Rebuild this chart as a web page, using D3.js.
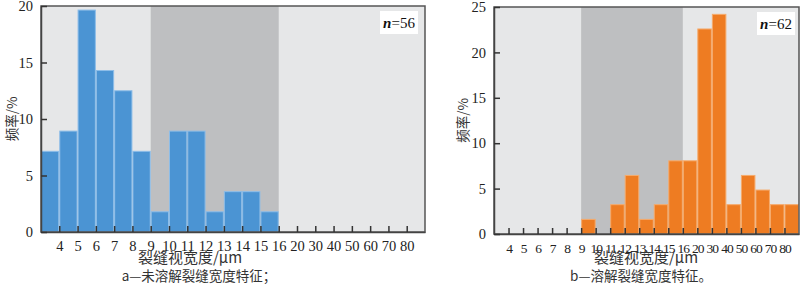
<!DOCTYPE html>
<html>
<head>
<meta charset="utf-8">
<script src="https://cdn.jsdelivr.net/npm/d3@7"></script>
<style>
  body { margin: 0; background: #fff; }
</style>
</head>
<body>
<script>
// bin edges that carry a label (first and last edge are unlabeled)
const edgeLabels = ["4", "5", "6", "7", "8", "9", "10", "11", "12", "13", "14", "15", "16",
                    "20", "30", "40", "50", "60", "70", "80"];
// frequency (%) per bin, 21 bins
const undissolved = [7.14, 8.93, 19.64, 14.29, 12.5, 7.14, 1.79, 8.93, 8.93, 1.79, 3.57, 3.57, 1.79,
                     0, 0, 0, 0, 0, 0, 0, 0];
const dissolved = [0, 0, 0, 0, 0, 0, 1.61, 0, 3.23, 6.45, 1.61, 3.23, 8.06, 8.06, 22.58, 24.19,
                   3.23, 6.45, 4.84, 3.23, 3.23];
const shadeEdges = [6, 13]; // edge index 9 .. 16
const yTicksA = [0, 5, 10, 15, 20];
const yTicksB = [0, 5, 10, 15, 20, 25];

const SERIF = '"Liberation Serif", "Times New Roman", "DejaVu Serif", serif';
const CJK = '"Noto Sans CJK SC", sans-serif';

const svg = d3.select("body").append("svg")
    .attr("width", 800)
    .attr("height", 285);

const drawPanel = (opts) => {
    const nBins = opts.values.length;
    const width = opts.right - opts.left;
    const height = opts.bottom - opts.top;
    const g = svg.append("g").attr("transform", "translate(" + opts.left + "," + opts.top + ")");

    const x = d3.scaleLinear().domain([0, nBins]).range([0, width]);
    const y = d3.scaleLinear().domain([0, opts.yMax]).range([height, 0]);

    g.append("rect")
        .attr("width", width)
        .attr("height", height)
        .attr("fill", "#e6e7e8");

    g.append("rect")
        .attr("x", x(shadeEdges[0]))
        .attr("width", x(shadeEdges[1]) - x(shadeEdges[0]))
        .attr("height", height)
        .attr("fill", "#bebfc1");

    g.selectAll("rect.bar")
        .data(opts.values.map((v, i) => ({ v: v, i: i })).filter(d => d.v > 0))
        .enter()
        .append("rect")
            .attr("class", "bar")
            .attr("x", d => x(d.i) + 0.5)
            .attr("y", d => y(d.v))
            .attr("width", d => x(d.i + 1) - x(d.i) - 1)
            .attr("height", d => height - y(d.v))
            .attr("fill", opts.color)
            .attr("stroke", opts.edge)
            .attr("stroke-width", 1);

    // frame
    g.append("rect")
        .attr("width", width)
        .attr("height", height)
        .attr("fill", "none")
        .attr("stroke", "#555")
        .attr("stroke-width", 1.5);

    const xAxis = g.append("g")
        .attr("transform", "translate(0," + height + ")")
        .call(d3.axisBottom(x)
            .tickValues(d3.range(1, nBins))
            .tickFormat(i => edgeLabels[i - 1])
            .tickSizeInner(-6)
            .tickSizeOuter(0)
            .tickPadding(9));
    xAxis.select(".domain").attr("stroke", "#444").attr("stroke-width", 1.5);
    xAxis.selectAll(".tick line").attr("stroke", "#333").attr("stroke-width", 1.5);
    xAxis.selectAll("text")
        .style("font-family", SERIF)
        .style("font-size", opts.xFont + "px")
        .style("letter-spacing", opts.xSpacing + "px")
        .attr("fill", "#222");

    const yAxis = g.append("g")
        .call(d3.axisLeft(y)
            .tickValues(opts.yTicks)
            .tickSizeInner(-6)
            .tickSizeOuter(0)
            .tickPadding(8));
    yAxis.select(".domain").attr("stroke", "#444").attr("stroke-width", 1.5);
    yAxis.selectAll(".tick line").attr("stroke", "#333").attr("stroke-width", 1.5);
    yAxis.selectAll("text")
        .style("font-family", SERIF)
        .style("font-size", "14.5px")
        .attr("fill", "#222");

    // n= box
    const box = g.append("g")
        .attr("transform", "translate(" + (width - opts.boxInset[0] - 38) + "," + opts.boxInset[1] + ")");
    box.append("rect")
        .attr("width", 38)
        .attr("height", 23)
        .attr("fill", "#fff");
    const nText = box.append("text")
        .attr("x", 19)
        .attr("y", 17)
        .attr("text-anchor", "middle")
        .attr("fill", "#111")
        .style("font-family", SERIF)
        .style("font-size", "15px");
    nText.append("tspan").style("font-style", "italic").style("font-weight", "bold").text("n");
    nText.append("tspan").text("=" + opts.n);

    svg.append("text")
        .attr("transform", "translate(" + opts.yTitleX + "," + (opts.top + height / 2) + ") rotate(-90)")
        .attr("text-anchor", "middle")
        .attr("dy", "0.35em")
        .attr("fill", "#333")
        .style("font-family", CJK)
        .style("font-size", "13.5px")
        .text("频率/%");

    svg.append("text")
        .attr("x", opts.titleX)
        .attr("y", 263)
        .attr("text-anchor", "middle")
        .attr("fill", "#333")
        .style("font-family", CJK)
        .style("font-size", "15px")
        .text("裂缝视宽度/μm");

    svg.append("text")
        .attr("x", opts.captionX)
        .attr("y", 281)
        .attr("text-anchor", "middle")
        .attr("fill", "#333")
        .style("font-family", CJK)
        .style("font-size", "13.5px")
        .text(opts.caption);
}

drawPanel({
    values: undissolved, yMax: 20, yTicks: yTicksA, n: 56,
    left: 41, right: 425, top: 6, bottom: 232,
    color: "#4b94d3", edge: "#8dbde8", xFont: 14.5, xSpacing: 0,
    boxInset: [7, 5], yTitleX: 12, titleX: 190, captionX: 199,
    caption: "a—未溶解裂缝宽度特征；"
});

drawPanel({
    values: dissolved, yMax: 25, yTicks: yTicksB, n: 62,
    left: 494, right: 799, top: 7, bottom: 234,
    color: "#ee7c22", edge: "#f6ab6c", xFont: 13.5, xSpacing: -1,
    boxInset: [4, 5], yTitleX: 463, titleX: 646, captionX: 641,
    caption: "b—溶解裂缝宽度特征。"
});
</script>
</body>
</html>
